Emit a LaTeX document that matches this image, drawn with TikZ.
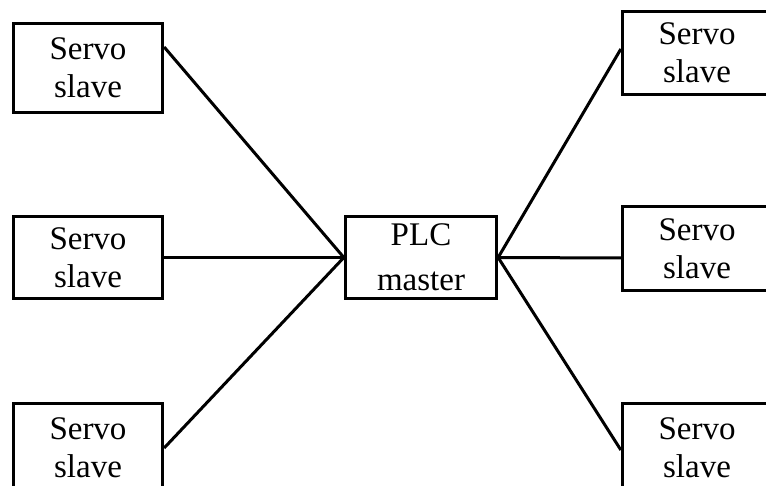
\documentclass[tikz,border=0pt]{standalone}
\usepackage{fontspec}
\setmainfont{Liberation Serif}
\begin{document}
\begin{tikzpicture}[x=1pt,y=-1pt,
  box/.style={draw,line width=3.3pt,inner sep=0pt,minimum width=149pt,align=center,
    font=\fontsize{33}{38}\selectfont},
  link/.style={line width=3pt}]
\useasboundingbox (0,0) rectangle (766,486);
\node[box,minimum height=82pt,font=\fontsize{33}{45}\selectfont,minimum width=151pt] (plc) at (421,257.5) {PLC\\master};
\node[box,minimum height=89pt] (lt) at (88,68) {Servo\\slave};
\node[box,minimum height=82pt] (lm) at (88,257.5) {Servo\\slave};
\node[box,minimum height=89pt] (lb) at (88,448) {Servo\\slave};
\node[box,minimum height=83pt] (rt) at (697,53) {Servo\\slave};
\node[box,minimum height=84pt] (rm) at (697,248.5) {Servo\\slave};
\node[box,minimum height=89pt] (rb) at (697,448) {Servo\\slave};
\coordinate (ltc) at ([yshift=21pt]lt.east);
\coordinate (rtc) at ([yshift=4pt]rt.west);
\coordinate (rmc) at ([yshift=-9.5pt]rm.west);
\coordinate (rbc) at ([yshift=-2pt]rb.west);
\draw[link] (ltc) -- (plc.west);
\draw[link] (lm.east) -- (plc.west);
\draw[link] (lb.east) -- (plc.west);
\draw[link] (rtc) -- (plc.east);
\draw[link] (rmc) -- (plc.east);
\draw[link] (rbc) -- (plc.east);
\end{tikzpicture}
\end{document}
